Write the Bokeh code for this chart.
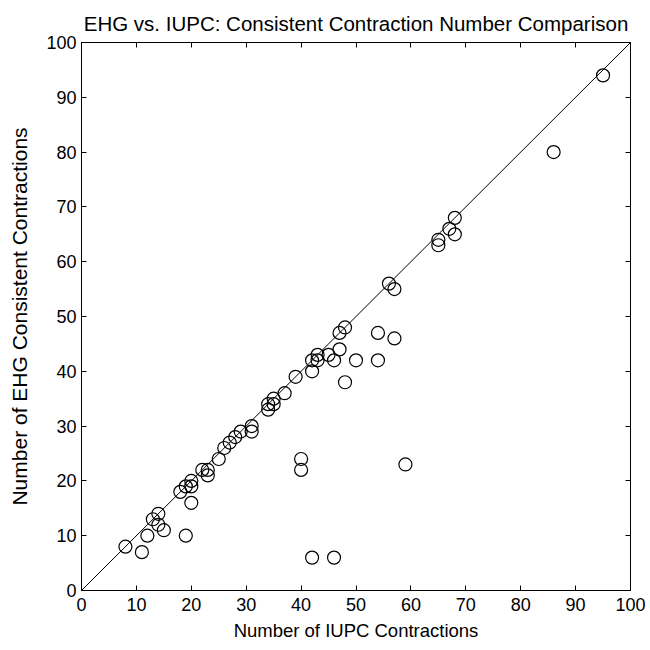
from bokeh.plotting import figure
from bokeh.models import Range1d, FixedTicker, LinearAxis, ColumnDataSource
from bokeh.embed import file_html
from bokeh.resources import INLINE

# IUPC contraction counts (x) and EHG consistent contraction counts (y)
iupc = [8, 11, 12, 13, 14, 14, 15, 19, 18, 19, 20, 20, 20, 22, 23, 23, 25, 26, 27, 28,
        29, 31, 31, 34, 34, 35, 35, 37, 39, 40, 40, 42, 46, 42, 42, 43, 43, 45, 46, 47,
        47, 48, 48, 50, 54, 54, 57, 56, 57, 59, 65, 65, 67, 68, 68, 86, 95]
ehg = [8, 7, 10, 13, 14, 12, 11, 10, 18, 19, 20, 19, 16, 22, 22, 21, 24, 26, 27, 28,
       29, 30, 29, 34, 33, 35, 34, 36, 39, 24, 22, 6, 6, 42, 40, 43, 42, 43, 42, 47,
       44, 48, 38, 42, 47, 42, 46, 56, 55, 23, 64, 63, 66, 68, 65, 80, 94]
identity_x = [0, 100]
identity_y = [0, 100]
ticks = [0, 10, 20, 30, 40, 50, 60, 70, 80, 90, 100]

FONT = "Liberation Sans"

p = figure(width=650, height=650, frame_width=549, frame_height=548,
           output_backend="svg", toolbar_location=None,
           x_range=Range1d(0, 100), y_range=Range1d(0, 100),
           min_border_left=81, min_border_right=20, min_border_top=42, min_border_bottom=60,
           title="EHG vs. IUPC: Consistent Contraction Number Comparison")

p.title.align = "center"
p.title.text_font = FONT
p.title.text_font_size = "20.5px"
p.title.text_font_style = "normal"
p.title.text_color = "black"
p.title.standoff = 16

p.grid.visible = False
p.outline_line_color = "black"
p.outline_line_width = 1
p.background_fill_color = "white"
p.border_fill_color = "white"

for ax in (p.xaxis[0], p.yaxis[0]):
    ax.ticker = FixedTicker(ticks=ticks)
    ax.major_tick_in = 5
    ax.major_tick_out = 0
    ax.minor_tick_line_color = None
    ax.axis_line_color = "black"
    ax.major_tick_line_color = "black"
    ax.major_label_text_font = FONT
    ax.major_label_text_font_size = "18px"
    ax.major_label_text_color = "black"
    ax.axis_label_text_font = FONT
    ax.axis_label_text_font_style = "normal"
    ax.axis_label_text_color = "black"

p.xaxis[0].axis_label = "Number of IUPC Contractions"
p.yaxis[0].axis_label = "Number of EHG Consistent Contractions"
p.xaxis[0].axis_label_text_font_size = "18.5px"
p.yaxis[0].axis_label_text_font_size = "21px"
p.xaxis[0].major_label_standoff = 7
p.yaxis[0].major_label_standoff = 5
p.xaxis[0].axis_label_standoff = 6
p.yaxis[0].axis_label_standoff = 12

for loc in ("above", "right"):
    ax = LinearAxis(ticker=FixedTicker(ticks=ticks), major_tick_in=5, major_tick_out=0,
                    minor_tick_line_color=None, major_label_text_font_size="1px",
                    major_label_text_color=None, major_label_standoff=0,
                    axis_line_color="black", major_tick_line_color="black")
    p.add_layout(ax, loc)

p.line(identity_x, identity_y, line_color="black", line_width=1)

src = ColumnDataSource(data=dict(x=iupc, y=ehg))
p.scatter("x", "y", source=src, marker="circle", size=13, fill_color=None,
          line_color="black", line_width=1.2)

open("out.html", "w").write(file_html(p, INLINE))
